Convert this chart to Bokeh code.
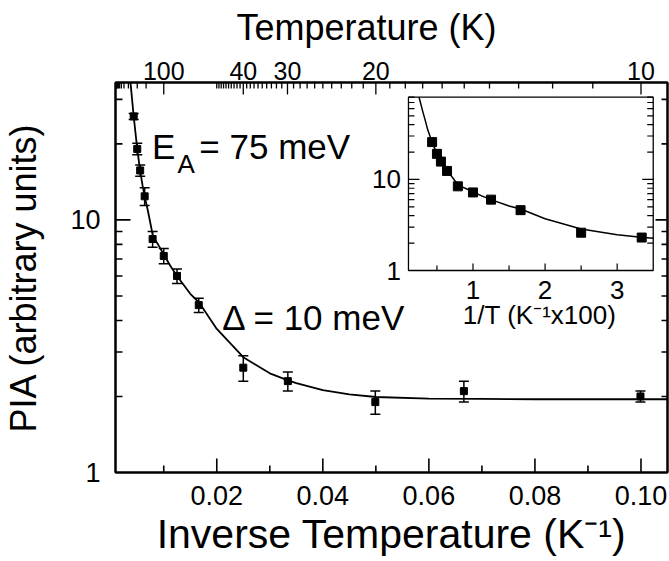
import math
from bokeh.plotting import figure
from bokeh.models import (Range1d, LinearAxis, LogAxis, FixedTicker, PrintfTickFormatter,
                          CustomJSTickFormatter, ColumnDataSource, Whisker, TeeHead,
                          LogScale, LinearScale)
from bokeh.core.properties import value
from bokeh.embed import file_html
from bokeh.resources import INLINE

# ---------------- data ----------------
inv_T = [0.00433, 0.00500, 0.00555, 0.00640, 0.00790, 0.01000, 0.01250,
         0.01660, 0.02500, 0.03340, 0.04990, 0.06660, 0.09990]
pia = [25.7, 19.1, 15.7, 12.4, 8.4, 7.2, 6.0, 4.6, 2.6, 2.3, 1.9, 2.1, 2.0]
pia_err = [0.7, 1.0, 0.8, 1.0, 0.6, 0.5, 0.4, 0.3, 0.3, 0.2, 0.2, 0.2, 0.1]

fit_x = [0.00252, 0.0030, 0.0035, 0.0037, 0.0040, 0.00433, 0.0050, 0.0055,
         0.0060, 0.0064, 0.0070, 0.0080, 0.0090, 0.0100, 0.0112, 0.0125,
         0.0150, 0.0167, 0.0200, 0.0250, 0.0300, 0.0333, 0.0350, 0.0400,
         0.0450, 0.0500, 0.0600, 0.0700, 0.0800, 0.0900, 0.1000, 0.1050]
fit_y = [80, 57, 41, 35.5, 30.4, 25.7, 19.1, 15.9,
         13.7, 12.4, 10.9, 8.55, 7.95, 7.3, 6.6, 6.0,
         5.1, 4.7, 3.7, 2.86, 2.47, 2.32, 2.26, 2.12,
         2.04, 1.99, 1.96, 1.955, 1.95, 1.95, 1.95, 1.95]

x_ticks = [0.02, 0.04, 0.06, 0.08, 0.10]
x_minor = [0.01, 0.03, 0.05, 0.07, 0.09]
y_ticks = [1, 10]
y_minor = [2, 3, 4, 5, 6, 7, 8, 9, 20, 30]
T_major = [100, 40, 30, 20, 10]
T_minor = [1000, 900, 800, 700, 600, 500, 400, 300, 200, 150,
           50, 49, 48, 47, 46, 45, 44, 43, 42, 41, 39, 38, 37, 36, 35, 34, 33,
           32, 31, 29, 28, 27, 26, 25, 24, 23, 22, 21, 19, 18, 17, 16, 15, 14,
           13, 12, 11]

inset_x_ticks = [1, 2, 3]
inset_x_minor = [0.5, 1.5, 2.5]
inset_y_ticks = [1, 10]
inset_y_minor = [2, 3, 4, 5, 6, 7, 8, 9, 20, 30, 40, 50, 60, 70, 80]
inset_count = 10  # points shown in the inset (1/T <= 0.0334)

# ---------------- layout ----------------
W, H = 669, 561
BL, BR, BT, BB = 114, 2, 82, 89
FW, FH = W - BL - BR, H - BT - BB
FONT = "Liberation Sans"
NBSP = "\u00a0"

X0, X1 = 0.0009, 0.105
Y0, Y1 = 1, 35
xpp = (X1 - X0) / FW                      # main x units per pixel
dpp = math.log10(Y1 / Y0) / FH            # main decades per pixel


def mx(px):
    return X0 + (px - BL) * xpp


def my(py):
    return Y0 * 10 ** ((BT + FH - py) * dpp)


# inset box (canvas px)
IL, IR, IT, IB = 407.5, 652.7, 96.7, 270.0
IX0, IX1, IY0, IY1 = 0.105, 3.5, 1, 80
fx0 = (IL - BL) / FW
fx1 = (IR - BL) / FW
fy0 = (BT + FH - IB) / FH
fy1 = (BT + FH - IT) / FH
ix_span = (IX1 - IX0) / (fx1 - fx0)
ix_start = IX0 - fx0 * ix_span
ix_end = ix_start + ix_span
iy_dec = math.log10(IY1 / IY0) / (fy1 - fy0)
iy_start = 10 ** (-fy0 * iy_dec)
iy_end = 10 ** ((1 - fy0) * iy_dec)
upx = ix_span / FW          # inset x units per pixel
dpx = iy_dec / FH           # inset decades per pixel


def ixp(px):
    return IX0 + (px - IL) * upx


def iyp(py):
    return IY0 * 10 ** ((IB - py) * dpx)


p = figure(width=W, height=H, x_range=Range1d(X0, X1), y_range=Range1d(Y0, Y1),
           y_axis_type="log", output_backend="svg", toolbar_location=None,
           min_border_left=BL, min_border_right=BR, min_border_top=BT,
           min_border_bottom=BB)
p.extra_x_ranges = {"ix": Range1d(ix_start, ix_end)}
p.extra_y_ranges = {"iy": Range1d(iy_start, iy_end)}
p.extra_x_scales = {"ix": LinearScale()}
p.extra_y_scales = {"iy": LogScale()}

p.grid.visible = False
p.outline_line_color = "black"
p.outline_line_width = 2
p.background_fill_color = "white"
p.border_fill_color = "white"


def style(ax, lab_size, standoff):
    ax.axis_line_color = "black"
    ax.axis_line_width = 2
    ax.major_tick_in = 0
    ax.major_tick_out = 0
    ax.minor_tick_in = 0
    ax.minor_tick_out = 0
    ax.major_label_text_font = FONT
    ax.major_label_text_font_size = lab_size
    ax.major_label_text_color = "black"
    ax.major_label_standoff = standoff
    ax.axis_label_text_font = FONT
    ax.axis_label_text_font_style = "normal"
    ax.axis_label_text_color = "black"


xb = p.xaxis[0]
xb.ticker = FixedTicker(ticks=x_ticks, minor_ticks=x_minor)
xb.formatter = PrintfTickFormatter(format="%.2f")
style(xb, "27px", 13)
xb.axis_label = "Inverse Temperature (K\u207b\u00b9)"
xb.axis_label_text_font_size = "41px"
xb.axis_label_standoff = 3

yl = p.yaxis[0]
yl.ticker = FixedTicker(ticks=y_ticks, minor_ticks=y_minor)
yl.formatter = PrintfTickFormatter(format="%d")
style(yl, "27px", 15)
yl.axis_label = "PIA (arbitrary units)"
yl.axis_label_text_font_size = "36px"
yl.axis_label_standoff = 23

T_major_x = [1.0 / t for t in T_major]
T_minor_x = [1.0 / t for t in T_minor if X0 <= 1.0 / t <= X1]
top = LinearAxis(ticker=FixedTicker(ticks=T_major_x, minor_ticks=T_minor_x),
                 formatter=CustomJSTickFormatter(code="return Math.round(1/tick).toString();"))
style(top, "25px", 3)
top.axis_label = "Temperature (K)" + NBSP * 5
top.axis_label_text_font_size = "36px"
top.axis_label_standoff = 11
p.add_layout(top, "above")

right = LogAxis(ticker=FixedTicker(ticks=y_ticks, minor_ticks=y_minor),
                formatter=CustomJSTickFormatter(code="return '';"))
style(right, "10px", 0)
p.add_layout(right, "right")

# ---------------- tick marks (drawn inward) ----------------
TK = dict(line_color="black")
bx = x_ticks + x_minor
bl = [14] * len(x_ticks) + [7] * len(x_minor)
p.segment(x0=bx, y0=[Y0] * len(bx), x1=bx, y1=[Y0 * 10 ** (l * dpp) for l in bl],
          line_width=1.6, **TK)
tx = T_major_x + T_minor_x
tl = [12] * len(T_major_x) + [6] * len(T_minor_x)
p.segment(x0=tx, y0=[Y1] * len(tx), x1=tx, y1=[Y1 / 10 ** (l * dpp) for l in tl],
          line_width=1.3, **TK)
ly = y_ticks[1:] + y_minor
ll = [15] * (len(y_ticks) - 1) + [7] * len(y_minor)
p.segment(x0=[X0] * len(ly), y0=ly, x1=[X0 + l * xpp for l in ll], y1=ly,
          line_width=1.6, **TK)
rl = [12] * (len(y_ticks) - 1) + [6] * len(y_minor)
p.segment(x0=[X1 - l * xpp for l in rl], y0=ly, x1=[X1] * len(ly), y1=ly,
          line_width=1.6, **TK)

# ---------------- main plot ----------------
p.line(fit_x, fit_y, line_color="black", line_width=1.8)

src = ColumnDataSource(dict(
    x=inv_T, y=pia,
    upper=[v + e for v, e in zip(pia, pia_err)],
    lower=[v - e for v, e in zip(pia, pia_err)],
))
p.add_layout(Whisker(source=src, base="x", upper="upper", lower="lower",
                     line_color="black", line_width=1.5,
                     upper_head=TeeHead(size=10, line_width=1.5, line_color="black"),
                     lower_head=TeeHead(size=10, line_width=1.5, line_color="black")))
p.scatter("x", "y", source=src, marker="square", size=7,
          fill_color="black", line_color="black")

TXT = dict(text_font=value(FONT), text_baseline="middle", text_align="left",
           text_color="black")
p.text(x=[mx(150.5)], y=[my(146.3)], text=["E"], text_font_size="35px", **TXT)
p.text(x=[mx(176)], y=[my(163.3)], text=["A"], text_font_size="26px", **TXT)
p.text(x=[mx(198)], y=[my(146.3)], text=["= 75 meV"], text_font_size="35px", **TXT)
p.text(x=[mx(221)], y=[my(317.2)], text=["\u0394 = 10 meV"], text_font_size="35px", **TXT)

# ---------------- inset ----------------
R = dict(x_range_name="ix", y_range_name="iy")
p.quad(left=[IX0], right=[IX1], bottom=[IY0], top=[IY1], fill_color="white",
       line_color="black", line_width=1.3, **R)

xt_all = inset_x_ticks + inset_x_minor
xt_len = [7] * len(inset_x_ticks) + [5] * len(inset_x_minor)
p.segment(x0=xt_all, y0=[IY0] * len(xt_all), x1=xt_all,
          y1=[IY0 * 10 ** (l * dpx) for l in xt_len],
          line_color="black", line_width=1.2, **R)
yt_all = inset_y_ticks[1:] + inset_y_minor
yt_len = [11] * (len(inset_y_ticks) - 1) + [6] * len(inset_y_minor)
p.segment(x0=[IX0] * len(yt_all), y0=yt_all,
          x1=[IX0 + l * upx for l in yt_len], y1=yt_all,
          line_color="black", line_width=1.2, **R)
p.segment(x0=[IX1 - l * upx for l in yt_len], y0=yt_all,
          x1=[IX1] * len(yt_all), y1=yt_all,
          line_color="black", line_width=1.2, **R)

p.text(x=[ixp(400)] * len(inset_y_ticks), y=inset_y_ticks,
       text=[str(v) for v in inset_y_ticks], text_font=value(FONT),
       text_font_size="26px", text_align="right", text_baseline="middle",
       text_color="black", **R)
p.text(x=inset_x_ticks, y=[iyp(289)] * len(inset_x_ticks),
       text=[str(v) for v in inset_x_ticks], text_font=value(FONT),
       text_font_size="26px", text_align="center", text_baseline="middle",
       text_color="black", **R)
p.text(x=[ixp(462)], y=[iyp(314)],
       text=["1/T (K\u207b\u00b9x100)"], text_font=value(FONT),
       text_font_size="26px", text_align="left", text_baseline="middle",
       text_color="black", **R)

fit_in = [(x * 100, y) for x, y in zip(fit_x, fit_y) if x * 100 <= IX1 + 1e-9]
p.line([a for a, b in fit_in], [b for a, b in fit_in], line_color="black",
       line_width=1.5, **R)
p.scatter([x * 100 for x in inv_T[:inset_count]], pia[:inset_count],
          marker="square", size=9, fill_color="black", line_color="black", **R)

open("out.html", "w").write(file_html(p, INLINE))
